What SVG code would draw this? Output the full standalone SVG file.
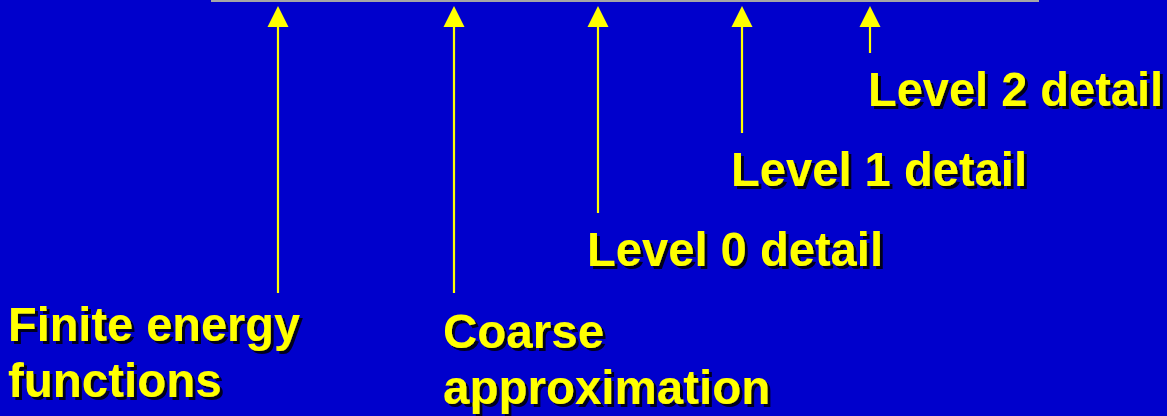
<svg xmlns="http://www.w3.org/2000/svg" width="1167" height="416" viewBox="0 0 1167 416">
  <defs>
    <marker id="ah" markerUnits="userSpaceOnUse" markerWidth="22" markerHeight="22" refX="0" refY="10.5" orient="auto" overflow="visible">
      <path d="M0,0 L21,10.5 L0,21 Z" fill="#FFFF00"/>
    </marker>
    <filter id="shadow" x="-5%" y="-20%" width="110%" height="140%">
      <feOffset in="SourceAlpha" dx="2.5" dy="2.5" result="off"/>
      <feFlood flood-color="#000000" flood-opacity="0.85"/>
      <feComposite in2="off" operator="in" result="sh"/>
      <feMerge>
        <feMergeNode in="sh"/>
        <feMergeNode in="SourceGraphic"/>
      </feMerge>
    </filter>
    <style>
      .lbl { font-family: "Liberation Sans", Arial, sans-serif; font-weight: bold; font-size: 47.5px; fill: #FFFF00; filter: url(#shadow); }
      .conn line { stroke: #FFFF00; stroke-width: 2.2; marker-end: url(#ah); }
    </style>
  </defs>
  <rect x="0" y="0" width="1167" height="416" fill="#0000CC"/>
  <rect x="211" y="0" width="828" height="2" fill="#A6A6A6"/>

  <g id="connectors" class="conn">
    <line x1="278" y1="293" x2="278" y2="27"/>
    <line x1="454" y1="293" x2="454" y2="27"/>
    <line x1="598" y1="213" x2="598" y2="27"/>
    <line x1="742" y1="133" x2="742" y2="27"/>
    <line x1="870" y1="53" x2="870" y2="27"/>
  </g>

  <g id="finite" class="lbl">
    <text x="8" y="341" textLength="292" lengthAdjust="spacingAndGlyphs">Finite energy</text>
    <text x="8" y="397">functions</text>
  </g>

  <g id="coarse" class="lbl">
    <text x="443" y="348">Coarse</text>
    <text x="443" y="404">approximation</text>
  </g>

  <g id="level0" class="lbl">
    <text x="587" y="266" textLength="296" lengthAdjust="spacingAndGlyphs">Level 0 detail</text>
  </g>

  <g id="level1" class="lbl">
    <text x="731" y="186" textLength="296" lengthAdjust="spacingAndGlyphs">Level 1 detail</text>
  </g>

  <g id="level2" class="lbl">
    <text x="868" y="106" textLength="295" lengthAdjust="spacingAndGlyphs">Level 2 detail</text>
  </g>
</svg>
